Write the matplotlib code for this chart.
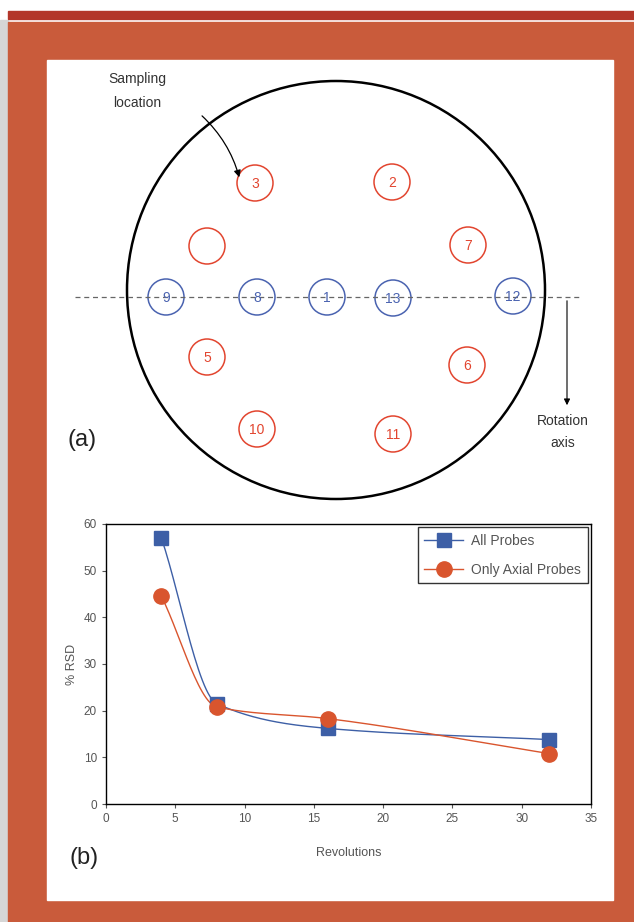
import numpy as np
import matplotlib
matplotlib.use("Agg")
import matplotlib.pyplot as plt
from matplotlib.patches import Circle, Rectangle, FancyArrowPatch

plt.rcParams['font.family'] = ['Liberation Sans', 'DejaVu Sans']

# probe layout (a), in pixel coords of the panel
probe_labels = ['3', '2', '', '7', '9', '8', '1', '13', '12', '5', '6', '10', '11']
probe_x = [255, 392, 207, 468, 166, 257, 327, 393, 513, 207, 467, 257, 393]
probe_y = [183, 182, 246, 245, 297, 297, 297, 298, 296, 357, 365, 429, 434]
probe_axial = [False, False, False, False, True, True, True, True, True,
               False, False, False, False]

# RSD data (b)
revolutions = [4, 8, 16, 32]
rsd_all = [57.0, 21.5, 16.2, 13.8]
rsd_axial = [44.5, 20.8, 18.3, 10.8]

W, H = 634, 922
fig = plt.figure(figsize=(W / 100, H / 100), dpi=100, facecolor='white')

bg = fig.add_axes([0, 0, 1, 1])
bg.set_xlim(0, W)
bg.set_ylim(H, 0)
bg.axis('off')

# frame
bg.add_patch(Rectangle((0, 20), 8, H - 20, color='#d6d6d6'))
bg.add_patch(Rectangle((8, 11), W - 8, 8, color='#b3362a'))
bg.add_patch(Rectangle((8, 22), W - 8, H - 22, color='#c95b3b'))
bg.add_patch(Rectangle((47, 60), 566, 840, color='white'))

# big disc
bg.add_patch(Circle((336, 290), 209, fill=False, ec='black', lw=1.8))
bg.plot([75, 580], [297, 297], ls=(0, (4, 3)), color='#666666', lw=0.9)

for lab, x, y, ax_ in zip(probe_labels, probe_x, probe_y, probe_axial):
    col = '#4a63b0' if ax_ else '#e2452f'
    bg.add_patch(Circle((x, y), 18, fill=False, ec=col, lw=1.1))
    bg.text(x, y + 1, lab, color=col, fontsize=10, ha='center', va='center')

bg.text(137, 91, 'Sampling\nlocation', fontsize=10, ha='center', va='center',
        color='#333333', linespacing=1.9)
bg.add_patch(FancyArrowPatch((200, 114), (240, 180), connectionstyle='arc3,rad=-0.15',
                             arrowstyle='-|>', mutation_scale=10, color='black', lw=0.9))
bg.add_patch(FancyArrowPatch((567, 298), (567, 408), arrowstyle='-|>',
                             mutation_scale=9, color='black', lw=0.8))
bg.text(563, 432, 'Rotation\naxis', fontsize=10, ha='center', va='center',
        color='#333333', linespacing=1.75)
bg.text(82, 440, '(a)', fontsize=17, ha='center', va='center', color='#222222')
bg.text(84, 858, '(b)', fontsize=17, ha='center', va='center', color='#222222')

# line plot
ax = fig.add_axes([106 / W, (H - 804) / H, (591 - 106) / W, (804 - 524) / H])
ax.set_xlim(0, 35)
ax.set_ylim(0, 60)
ax.set_xticks(range(0, 36, 5))
ax.set_yticks(range(0, 61, 10))
ax.tick_params(labelsize=8.5, colors='#555555', length=3, width=0.8)
for s in ax.spines.values():
    s.set_linewidth(1.0)
ax.set_xlabel('Revolutions', fontsize=9, color='#555555', labelpad=16)
ax.set_ylabel('% RSD', fontsize=9, color='#555555', labelpad=4)


def pchip(x, y, n=200):
    # monotone cubic through the points, only for drawing the curve
    x = np.asarray(x, float)
    y = np.asarray(y, float)
    h = np.diff(x)
    d = np.diff(y) / h
    m = np.zeros_like(y)
    for k in range(1, len(x) - 1):
        if d[k - 1] * d[k] > 0:
            w1 = 2 * h[k] + h[k - 1]
            w2 = h[k] + 2 * h[k - 1]
            m[k] = (w1 + w2) / (w1 / d[k - 1] + w2 / d[k])
    m[0] = d[0]
    m[-1] = d[-1]
    xs = np.linspace(x[0], x[-1], n)
    idx = np.clip(np.searchsorted(x, xs) - 1, 0, len(x) - 2)
    t = (xs - x[idx]) / h[idx]
    h00 = 2 * t**3 - 3 * t**2 + 1
    h10 = t**3 - 2 * t**2 + t
    h01 = -2 * t**3 + 3 * t**2
    h11 = t**3 - t**2
    ys = h00 * y[idx] + h10 * h[idx] * m[idx] + h01 * y[idx + 1] + h11 * h[idx] * m[idx + 1]
    return xs, ys


blue = '#3d5fa6'
orange = '#d9552e'
xs, ys = pchip(revolutions, rsd_all)
ax.plot(xs, ys, color=blue, lw=1.0)
xs, ys = pchip(revolutions, rsd_axial)
ax.plot(xs, ys, color=orange, lw=1.0)
ax.plot(revolutions, rsd_all, 's', color=blue, ms=10)
ax.plot(revolutions, rsd_axial, 'o', color=orange, ms=11)

h1, = ax.plot([], [], '-s', color=blue, ms=10, lw=1.0)
h2, = ax.plot([], [], '-o', color=orange, ms=11, lw=1.0)
leg = ax.legend([h1, h2], ['All Probes', 'Only Axial Probes'], loc='upper right',
                fontsize=10, frameon=True, fancybox=False, borderaxespad=0.25,
                borderpad=0.45, handlelength=2.8, handletextpad=0.6,
                labelspacing=1.1)
leg.get_frame().set_edgecolor('black')
leg.get_frame().set_linewidth(1.0)
for t in leg.get_texts():
    t.set_color('#555555')

fig.savefig('out.png', dpi=100, facecolor=fig.get_facecolor())
